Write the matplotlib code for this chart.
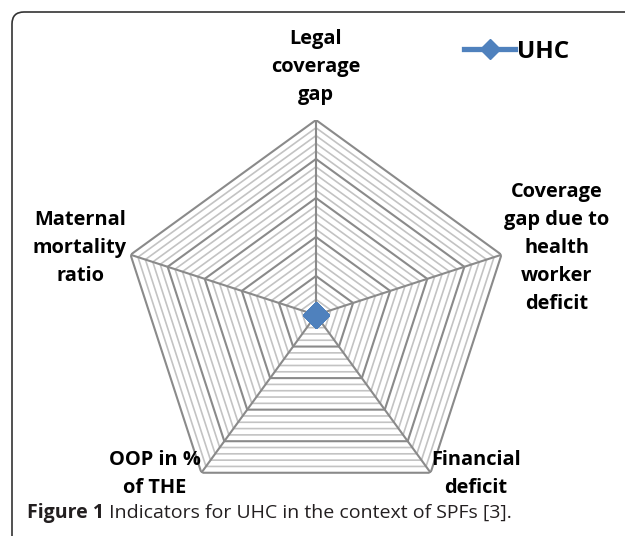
import numpy as np
import matplotlib
matplotlib.use("Agg")
import matplotlib.pyplot as plt
from matplotlib.patches import PathPatch
from matplotlib.path import Path
from matplotlib.lines import Line2D

# ---- data ----
categories = ["Legal\ncoverage\ngap",
              "Coverage\ngap due to\nhealth\nworker\ndeficit",
              "Financial\ndeficit",
              "OOP in %\nof THE",
              "Maternal\nmortality\nratio"]
uhc_values = [0.0, 0.0, 0.0, 0.0, 0.0]
series_name = "UHC"
r_max = 1.0
major_step = 0.2
minor_step = 0.04
caption_bold = "Figure 1"
caption_rest = " Indicators for UHC in the context of SPFs [3]."

W, H = 625, 536
fig = plt.figure(figsize=(W / 100, H / 100), dpi=100)

def fx(px):
    return px / W

def fy(py):
    return 1 - py / H

# polar axes: center (316,315) px, radius 195 px
cx, cy, R = 316, 315, 195
ax = fig.add_axes([fx(cx - R), fy(cy + R), 2 * R / W, 2 * R / H], projection="polar")
ax.set_theta_offset(np.pi / 2)
ax.set_theta_direction(-1)
ax.set_ylim(0, r_max)
ax.grid(False)
ax.spines["polar"].set_visible(False)
ax.set_xticks([])
ax.set_yticks([])
ax.patch.set_alpha(0)

n = len(categories)
angles = np.linspace(0, 2 * np.pi, n, endpoint=False)
ang_closed = np.concatenate([angles, angles[:1]])

major_col = "#8a8a8a"
minor_col = "#c3c3c3"
levels = np.arange(minor_step, r_max + 1e-9, minor_step)
for lv in levels:
    is_major = abs(lv / major_step - round(lv / major_step)) < 1e-6
    ax.plot(ang_closed, [lv] * (n + 1),
            color=major_col if is_major else minor_col,
            lw=1.5 if is_major else 1.2, zorder=2 if is_major else 1,
            solid_joinstyle="miter")
for a in angles:
    ax.plot([a, a], [0, r_max], color=major_col, lw=1.5, zorder=2)

blue = "#4F81BD"
vals_closed = list(uhc_values) + [uhc_values[0]]
ax.plot(ang_closed, vals_closed, color=blue, lw=3.6, marker="D",
        markersize=13.5, markeredgecolor=blue, zorder=5, clip_on=False)

# axis labels
label_pos = [(316, 67), (557, 248), (476, 474), (155, 474), (80, 248)]
for txt, (px, py) in zip(categories, label_pos):
    fig.text(fx(px), fy(py), txt, ha="center", va="center",
             fontsize=14.4, fontweight="bold", family="Open Sans",
             linespacing=1.52, color="#000000")

# legend
handle = Line2D([], [], color=blue, lw=3.8, marker="D", markersize=10)
fig.legend([handle], [series_name], loc="center left",
           bbox_to_anchor=(fx(464), fy(52)), frameon=False,
           handlelength=2.1, handletextpad=0.1, borderpad=0, borderaxespad=0,
           prop={"family": "Open Sans", "weight": "bold", "size": 17.5})

# frame with rounded top-left corner
rr = 12
verts = [(fx(W + 5), fy(12)), (fx(12 + rr), fy(12)),
         (fx(12), fy(12)), (fx(12), fy(12 + rr)),
         (fx(12), fy(H + 5))]
codes = [Path.MOVETO, Path.LINETO, Path.CURVE3, Path.CURVE3, Path.LINETO]
fig.patches.append(PathPatch(Path(verts, codes), transform=fig.transFigure,
                             fill=False, edgecolor="#333333", lw=1.2))

# caption
t1 = fig.text(fx(27), fy(513), caption_bold, ha="left", va="center",
              fontsize=14, fontweight="bold", family="Open Sans", color="#231f20")
fig.canvas.draw()
bb = t1.get_window_extent()
fig.text(bb.x1 / W, fy(513), caption_rest, ha="left", va="center",
         fontsize=14, family="Open Sans", color="#231f20")

fig.savefig("out.png", dpi=100)
